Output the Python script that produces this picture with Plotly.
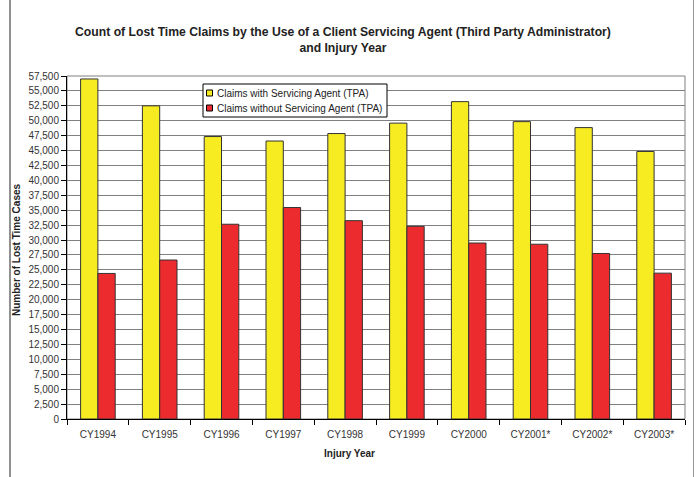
import plotly.graph_objects as go

categories = ["CY1994", "CY1995", "CY1996", "CY1997", "CY1998", "CY1999",
              "CY2000", "CY2001*", "CY2002*", "CY2003*"]
with_tpa = [57000, 52500, 47350, 46600, 47850, 49600, 53200, 49850, 48850, 44850]
without_tpa = [24400, 26650, 32650, 35450, 33250, 32300, 29500, 29300, 27750, 24450]
series_names = ["Claims with Servicing Agent (TPA)", "Claims without Servicing Agent (TPA)"]
series_colors = ["#F7EC22", "#EC2B2E"]
y_ticks = list(range(0, 57501, 2500))

W, H = 696, 477
L, R, T, B = 67, 11, 76, 58
pw = W - L - R
ph = H - T - B

def px_x(x):
    return (x - L) / pw

def px_y(y):
    return (H - B - y) / ph

fig = go.Figure()
fig.add_trace(go.Bar(x=categories, y=with_tpa, name=series_names[0], showlegend=False,
                     marker=dict(color=series_colors[0], line=dict(color="#333333", width=1))))
fig.add_trace(go.Bar(x=categories, y=without_tpa, name=series_names[1], showlegend=False,
                     marker=dict(color=series_colors[1], line=dict(color="#333333", width=1))))

font_family = "Liberation Sans, Arial, sans-serif"

fig.update_layout(
    width=W, height=H,
    margin=dict(l=L, r=R, t=T, b=B),
    paper_bgcolor="white", plot_bgcolor="white",
    barmode="group", bargap=0.44, bargroupgap=0,
    font=dict(family=font_family, size=10, color="#333333"),
    title=dict(text="<b>Count of Lost Time Claims by the Use of a Client Servicing Agent (Third Party Administrator)<br>and Injury Year</b>",
               x=343 / W, xref="container", xanchor="center",
               y=1 - 36 / H, yref="container", yanchor="middle",
               font=dict(size=12.2, color="#222222", family=font_family)),
)

fig.update_yaxes(range=[0, 57500], tickvals=y_ticks,
                 ticktext=[f"{v:,}" for v in y_ticks],
                 showgrid=True, gridcolor="#808080", gridwidth=1,
                 showline=True, linecolor="#000000", linewidth=1,
                 ticks="outside", ticklen=5, tickcolor="#000000",
                 tickfont=dict(size=10, color="#333333"), zeroline=False)
fig.update_xaxes(showline=True, linecolor="#000000", linewidth=1,
                 ticks="outside", ticklen=5, tickcolor="#000000",
                 tickson="boundaries", ticklabelstandoff=6,
                 tickfont=dict(size=10, color="#333333"))

# plot-area border (top and right), outer frame lines
fig.add_shape(type="rect", xref="paper", yref="paper", x0=0, x1=1, y0=0, y1=1,
              line=dict(color="#808080", width=1), layer="below")
fig.add_shape(type="line", xref="paper", yref="paper",
              x0=px_x(10), x1=px_x(10), y0=-0.3, y1=1.4,
              line=dict(color="#222222", width=1))
fig.add_shape(type="line", xref="paper", yref="paper",
              x0=px_x(693.5), x1=px_x(693.5), y0=-0.3, y1=1.4,
              line=dict(color="#999999", width=1))

# legend box
lx0, lx1, ly0, ly1 = 203, 387, 84, 117
fig.add_shape(type="rect", xref="paper", yref="paper",
              x0=px_x(lx0), x1=px_x(lx1), y0=px_y(ly1), y1=px_y(ly0),
              line=dict(color="#000000", width=1), fillcolor="white", layer="above")
for i, (nm, col) in enumerate(zip(series_names, series_colors)):
    cy = 93 + i * 15
    fig.add_shape(type="rect", xref="paper", yref="paper",
                  x0=px_x(206.5), x1=px_x(212.5), y0=px_y(cy + 3), y1=px_y(cy - 3),
                  line=dict(color="#000000", width=1), fillcolor=col, layer="above")
    fig.add_annotation(text=nm, xref="paper", yref="paper",
                       x=px_x(215), y=px_y(cy), xanchor="left", yanchor="middle",
                       showarrow=False, font=dict(size=10, color="#222222"))

fig.add_annotation(text="<b>Number of Lost Time Cases</b>", xref="paper", yref="paper",
                   x=px_x(16), y=px_y(250), textangle=-90, showarrow=False,
                   xanchor="center", yanchor="middle",
                   font=dict(size=10, color="#222222"))
fig.add_annotation(text="<b>Injury Year</b>", xref="paper", yref="paper",
                   x=px_x(349), y=px_y(453), showarrow=False,
                   xanchor="center", yanchor="middle",
                   font=dict(size=10, color="#222222"))

fig.write_html("out.html", config={"displayModeBar": False},
               post_script="document.body.style.margin='0';")
